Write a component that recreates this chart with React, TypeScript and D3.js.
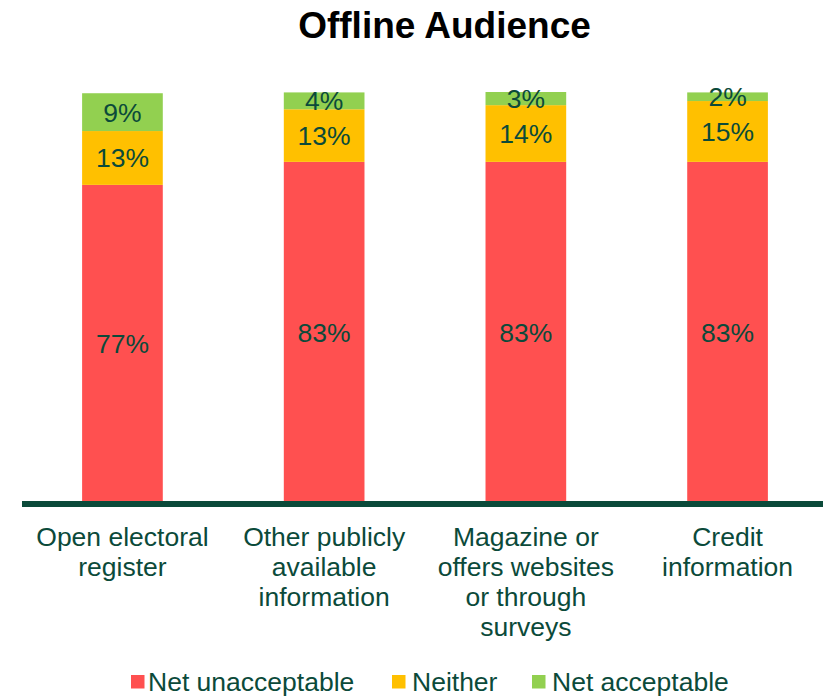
import React from "react";
import * as d3 from "d3";

const categories: string[][] = [
  ["Open electoral", "register"],
  ["Other publicly", "available", "information"],
  ["Magazine or", "offers websites", "or through", "surveys"],
  ["Credit", "information"],
];
const netUnacceptable = [77.4, 83.0, 83.0, 83.0];
const neither = [13.1, 12.8, 13.8, 14.8];
const netAcceptable = [9.2, 4.1, 3.2, 2.1];
const seriesNames = ["Net unacceptable", "Neither", "Net acceptable"];
const colors = ["#FF5050", "#FFC000", "#92D050"];

const W = 823;
const H = 697;
const textColor = "#0B4A3A";
const font = "'Liberation Sans', Arial, sans-serif";

export default function App() {
  const x = d3.scaleBand<number>().domain([0, 1, 2, 3]).range([21.6, 828.4]).paddingInner(0.6).paddingOuter(0.3);
  const y = d3.scaleLinear().domain([0, 100]).range([503, 92]);
  const series = [netUnacceptable, neither, netAcceptable];
  const stack = d3.stack<number>().keys(["0", "1", "2"]).value((i, k) => series[+k][i]);
  const stacked = stack([0, 1, 2, 3]);

  return (
    <svg width={W} height={H} style={{ position: "absolute", left: 0, top: 0 }} fontFamily={font}>
      <text x={444.5} y={38} textAnchor="middle" fontSize={37} fontWeight="bold" fill="#000">
        Offline Audience
      </text>
      {stacked.map((layer, si) => (
        <g key={si}>
          {layer.map((d, i) => {
            const y0 = y(d[0]);
            const y1 = y(d[1]);
            return (
              <g key={i}>
                <rect x={x(i)!} width={x.bandwidth()} y={y1} height={y0 - y1} fill={colors[si]} />
                <text
                  x={x(i)! + x.bandwidth() / 2}
                  y={(y0 + y1) / 2 + 9.5}
                  textAnchor="middle"
                  fontSize={26.5}
                  fill={textColor}
                >
                  {Math.round(series[si][i])}%
                </text>
              </g>
            );
          })}
        </g>
      ))}
      <line x1={22} x2={823} y1={504} y2={504} stroke="#0B4A3A" strokeWidth={6} />
      {categories.map((lines, i) => (
        <text key={i} textAnchor="middle" fontSize={26.5} fill={textColor}>
          {lines.map((l, j) => (
            <tspan key={j} x={x(i)! + x.bandwidth() / 2} y={546 + j * 30}>
              {l}
            </tspan>
          ))}
        </text>
      ))}
      {[
        { sx: 131, tx: 148 },
        { sx: 392, tx: 412 },
        { sx: 532, tx: 552 },
      ].map((p, i) => (
        <g key={i}>
          <rect x={p.sx} y={675} width={13.5} height={13.5} fill={colors[i]} />
          <text x={p.tx} y={691} fontSize={26.5} fill={textColor}>
            {seriesNames[i]}
          </text>
        </g>
      ))}
    </svg>
  );
}
